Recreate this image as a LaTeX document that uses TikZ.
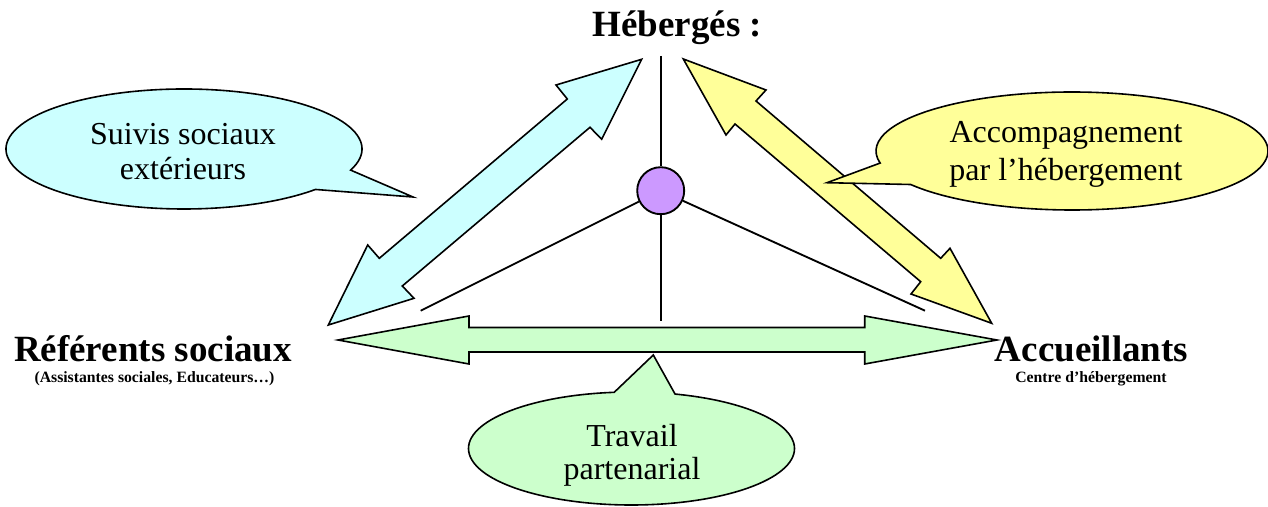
\documentclass[tikz,border=0pt]{standalone}
\usepackage{fontspec}
\setmainfont{Liberation Serif}
\definecolor{cyanfill}{HTML}{CCFFFF}
\definecolor{yellowfill}{HTML}{FFFF99}
\definecolor{greenfill}{HTML}{CCFFCC}
\definecolor{purplefill}{HTML}{CC99FF}
\tikzset{
  shapeline/.style={draw=black, line width=1.2pt, line join=miter},
  plainline/.style={draw=black, line width=1.4pt},
  biglabel/.style={font=\fontsize{27.75}{33}\selectfont\bfseries, inner sep=0pt, anchor=base},
  smalllabel/.style={font=\fontsize{11.8}{14}\selectfont\bfseries, inner sep=0pt, anchor=base},
  bubbletext/.style={font=\fontsize{24}{28}\selectfont, inner sep=0pt, anchor=base},
}
\begin{document}
\begin{tikzpicture}[x=0.75pt, y=0.75pt]
\useasboundingbox (0,0) rectangle (1268,507);

% hub and spokes
\node[circle, fill=purplefill, draw=black, line width=1.4pt, minimum size=47pt*0.75, inner sep=0pt] (hub) at (660.7,316.3) {};
\coordinate (top) at (660.7,451);
\coordinate (bot) at (660.7,186);
\coordinate (lft) at (420.7,196.3);
\coordinate (rgt) at (925,196.3);
\draw[plainline] (top) -- (hub.north);
\draw[plainline] (hub.south) -- (bot);
\draw[plainline] (hub) -- (lft);
\draw[plainline] (hub) -- (rgt);

% cyan double arrow
\draw[shapeline, fill=cyanfill] (641.7,447.7) -- (556,422) -- (567.3,408) -- (379.3,248.7) -- (367.7,262) -- (328.3,182) -- (414,208.7) -- (402.3,221) -- (590,379.7) -- (601.7,367.7) -- cycle;

% yellow double arrow
\draw[shapeline, fill=yellowfill] (683.3,448) -- (766,417) -- (756,406) -- (940.7,248.7) -- (950,258.7) -- (991.7,183.7) -- (911,213) -- (920.7,225.3) -- (735,383) -- (726,372) -- cycle;

% green double arrow
\draw[shapeline, fill=greenfill] (338,167) -- (469,191) -- (469,179.5) -- (864.7,179.5) -- (864.7,191) -- (997,167) -- (864.7,143) -- (864.7,155) -- (469,155) -- (469,143) -- cycle;

% callouts
\draw[shapeline, fill=cyanfill] (184,358) ++(-20.6:178 and 60) arc[start angle=-20.6, end angle=317.6, x radius=178, y radius=60] -- (413,310) -- cycle;
\draw[shapeline, fill=yellowfill] (1072,356) ++(214.6:196 and 59) arc[start angle=214.6, end angle=551.8, x radius=196, y radius=59] -- (827,324.3) -- cycle;
\draw[shapeline, fill=greenfill] (631.5,58.5) ++(96.1:163 and 56.5) arc[start angle=96.1, end angle=434.5, x radius=163, y radius=56.5] -- (653.3,152) -- cycle;

% labels
\node[biglabel] (heb) at (677.5,470.3) {Hébergés :};
\node[biglabel] (ref) at (153,145.3) {Référents sociaux};
\node[smalllabel] (refsub) at (154.5,124) {(Assistantes sociales, Educateurs…)};
\node[biglabel] (acc) at (1091.5,145.3) {Accueillants};
\node[smalllabel] (accsub) at (1091,124) {Centre d’hébergement};

\node[bubbletext] (suivA) at (183,362) {Suivis sociaux};
\node[bubbletext] (suivB) at (183,327) {extérieurs};
\node[bubbletext] (accoA) at (1066,364) {Accompagnement};
\node[bubbletext] (accoB) at (1066,326.3) {par l’hébergement};
\node[bubbletext] (travA) at (632,60.3) {Travail};
\node[bubbletext] (travB) at (632,27) {partenarial};
\end{tikzpicture}
\end{document}
